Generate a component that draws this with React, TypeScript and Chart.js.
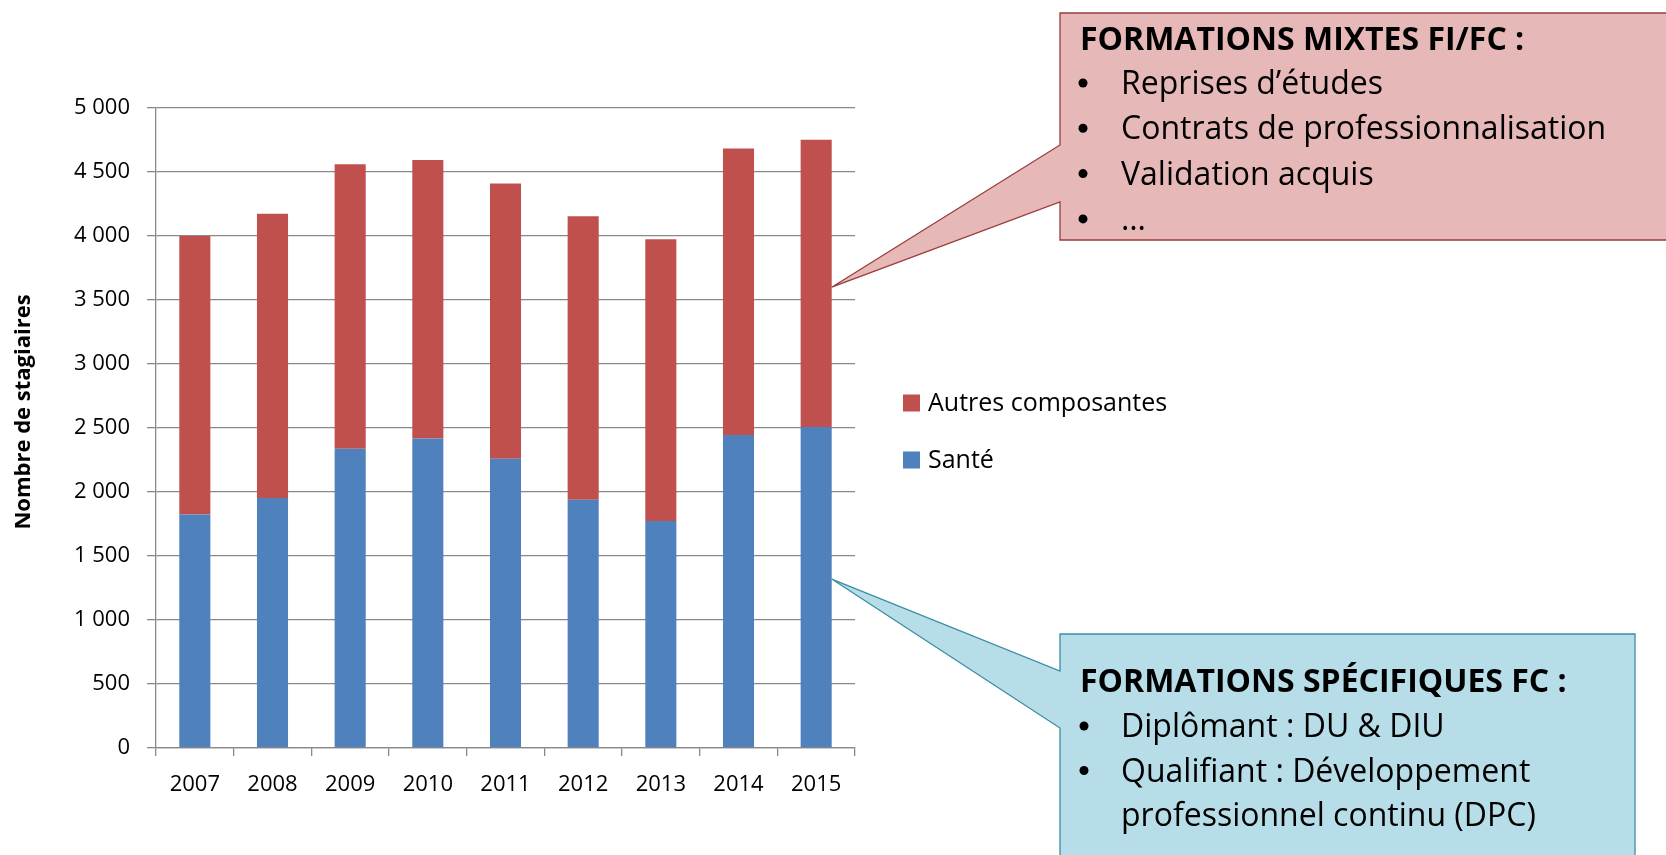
import React, { useEffect, useRef } from "react";
import { Chart, registerables } from "chart.js";

Chart.register(...registerables);

// ---- Data ----
const years = ["2007", "2008", "2009", "2010", "2011", "2012", "2013", "2014", "2015"];
const sante = [1824, 1953, 2338, 2417, 2259, 1939, 1773, 2446, 2507];
const autres = [2176, 2220, 2223, 2177, 2151, 2216, 2202, 2237, 2245];
const seriesLabels = ["Santé", "Autres composantes"];
const seriesColors = ["#4F81BD", "#C0504D"];
const yMax = 5000;
const yStep = 500;
const yTitle = "Nombre de stagiaires";

const mixtesTitle = "FORMATIONS MIXTES FI/FC :";
const mixtesItems = ["Reprises d’études", "Contrats de professionnalisation", "Validation acquis", "…"];
const mixtesAnchorValue = 3600;
const specTitle = "FORMATIONS SPÉCIFIQUES FC :";
const specItems = [["Diplômant : DU & DIU"], ["Qualifiant : Développement", "professionnel continu (DPC)"]];
const specAnchorValue = 1320;

const FONT = "'Open Sans', 'Noto Sans', sans-serif";

function fmtThousands(v: number): string {
  return String(v).replace(/\B(?=(\d{3})+(?!\d))/g, " ");
}

function drawCallout(
  ctx: CanvasRenderingContext2D,
  box: { x0: number; y0: number; x1: number; y1: number; p1: number; p2: number },
  tipX: number,
  tipY: number,
  fill: string,
  stroke: string
) {
  ctx.save();
  ctx.beginPath();
  ctx.moveTo(box.x0, box.y0);
  ctx.lineTo(box.x1, box.y0);
  ctx.lineTo(box.x1, box.y1);
  ctx.lineTo(box.x0, box.y1);
  ctx.lineTo(box.x0, box.p2);
  ctx.lineTo(tipX, tipY);
  ctx.lineTo(box.x0, box.p1);
  ctx.closePath();
  ctx.fillStyle = fill;
  ctx.fill();
  ctx.lineWidth = 1.3;
  ctx.strokeStyle = stroke;
  ctx.stroke();
  ctx.restore();
}

const annotationPlugin = {
  id: "annotations",
  afterDraw(chart: any) {
    const ctx: CanvasRenderingContext2D = chart.ctx;
    const yScale = chart.scales.y;
    const meta = chart.getDatasetMeta(1);
    const last = meta.data[meta.data.length - 1];
    const props = last.getProps(["x", "width"], true);
    const tipX = props.x + props.width / 2;

    // Y axis title
    ctx.save();
    ctx.translate(24, 412);
    ctx.rotate(-Math.PI / 2);
    ctx.font = `bold 22px ${FONT}`;
    ctx.fillStyle = "#000";
    ctx.textAlign = "center";
    ctx.textBaseline = "middle";
    ctx.fillText(yTitle, 0, 0);
    ctx.restore();

    // Legend (drawn in reverse dataset order)
    ctx.save();
    ctx.font = `25px ${FONT}`;
    ctx.textBaseline = "middle";
    const legendOrder = [1, 0];
    legendOrder.forEach((di, i) => {
      const cy = 403 + i * 57;
      ctx.fillStyle = seriesColors[di];
      ctx.fillRect(903, cy - 8.5, 17, 17);
      ctx.fillStyle = "#000";
      ctx.fillText(seriesLabels[di], 928, cy + 1);
    });
    ctx.restore();

    // Red callout
    drawCallout(
      ctx,
      { x0: 1060, y0: 13, x1: 1672, y1: 240, p1: 145, p2: 202 },
      tipX,
      yScale.getPixelForValue(mixtesAnchorValue),
      "#E6B9B8",
      "#9A3B38"
    );
    // Blue callout
    drawCallout(
      ctx,
      { x0: 1060, y0: 634, x1: 1635, y1: 862, p1: 671, p2: 728 },
      tipX,
      yScale.getPixelForValue(specAnchorValue),
      "#B7DEE8",
      "#3A8DA3"
    );

    ctx.save();
    ctx.fillStyle = "#000";
    ctx.textBaseline = "alphabetic";
    // Red text
    ctx.font = `bold 32px ${FONT}`;
    ctx.fillText(mixtesTitle, 1080, 50);
    ctx.font = `32px ${FONT}`;
    mixtesItems.forEach((t, i) => {
      const by = 94 + i * 45.3;
      ctx.beginPath();
      ctx.arc(1083, by - 11, 4.5, 0, Math.PI * 2);
      ctx.fill();
      ctx.fillText(t, 1121, by);
    });
    // Blue text
    ctx.font = `bold 32px ${FONT}`;
    ctx.fillText(specTitle, 1080, 692);
    ctx.font = `32px ${FONT}`;
    let line = 0;
    specItems.forEach((lines) => {
      lines.forEach((t, j) => {
        const by = 737 + line * 44.5;
        if (j === 0) {
          ctx.beginPath();
          ctx.arc(1084, by - 11, 4.5, 0, Math.PI * 2);
          ctx.fill();
        }
        ctx.fillText(t, 1121, by);
        line++;
      });
    });
    ctx.restore();
  },
};

export default function App() {
  const canvasRef = useRef<HTMLCanvasElement | null>(null);

  useEffect(() => {
    document.body.style.margin = "0";
    const canvas = canvasRef.current;
    if (!canvas) return;
    const chart = new Chart(canvas, {
      type: "bar",
      data: {
        labels: years,
        datasets: [
          {
            label: seriesLabels[0],
            data: sante,
            backgroundColor: seriesColors[0],
            categoryPercentage: 0.4,
            barPercentage: 1,
          },
          {
            label: seriesLabels[1],
            data: autres,
            backgroundColor: seriesColors[1],
            categoryPercentage: 0.4,
            barPercentage: 1,
          },
        ],
      },
      options: {
        animation: false,
        responsive: false,
        maintainAspectRatio: false,
        layout: { padding: { left: 0, top: 108, right: 811, bottom: 47 } },
        plugins: { legend: { display: false }, tooltip: { enabled: false } },
        scales: {
          x: {
            stacked: true,
            grid: { drawOnChartArea: false, color: "#898989", tickLength: 8, lineWidth: 1.3 },
            border: { color: "#898989", width: 1.3 },
            ticks: { font: { family: FONT, size: 22 }, color: "#000", padding: 16 },
            afterFit: (s: any) => {
              s.height = 60;
            },
          },
          y: {
            stacked: true,
            min: 0,
            max: yMax,
            ticks: {
              stepSize: yStep,
              font: { family: FONT, size: 22 },
              color: "#000",
              padding: 17,
              callback: (v: any) => fmtThousands(Number(v)),
            },
            grid: { color: "#898989", tickLength: 9, lineWidth: 1.3 },
            border: { color: "#898989", width: 1.3 },
            afterFit: (s: any) => {
              s.width = 156;
            },
          },
        },
      },
      plugins: [annotationPlugin],
    } as any);
    return () => chart.destroy();
  }, []);

  return (
    <div style={{ position: "absolute", left: 0, top: 0, width: 1666, height: 855 }}>
      <canvas ref={canvasRef} width={1666} height={855} style={{ display: "block" }} />
    </div>
  );
}
